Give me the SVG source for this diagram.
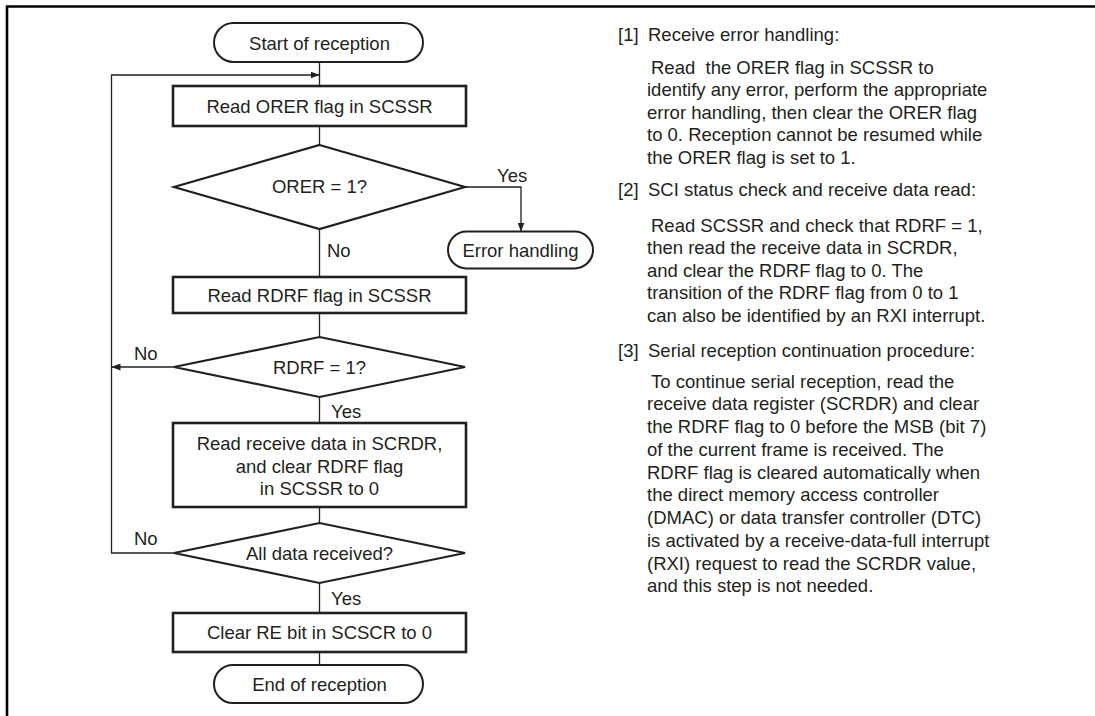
<svg xmlns="http://www.w3.org/2000/svg" width="1095" height="716" viewBox="0 0 1095 716">
<style>
text{font-family:"Liberation Sans",Arial,sans-serif;font-size:18.5px;fill:#231f20}
.c{text-anchor:middle}
.box{fill:#fff;stroke:#231f20;stroke-width:2.6}
.dia{fill:#fff;stroke:#231f20;stroke-width:2.2}
.term{fill:#fff;stroke:#231f20;stroke-width:2}
.ln{fill:none;stroke:#231f20;stroke-width:1.3}
.frame{fill:none;stroke:#000;stroke-width:2.6}
</style>
<defs>
<marker id="ah" markerUnits="userSpaceOnUse" markerWidth="9" markerHeight="7" refX="9" refY="3.5" orient="auto">
<path d="M0,0 L9,3.5 L0,7 z" fill="#231f20"/>
</marker>
</defs>
<rect width="1095" height="716" fill="#fff"/>
<g id="frame">
<path class="frame" d="M7,716 V6.5 H1095"/>
</g>
<g id="connectors">
<path class="ln" d="M319.5,62 V86"/>
<path class="ln" d="M319.5,126 V145"/>
<path class="ln" d="M465,187 H521 V231.5" marker-end="url(#ah)"/>
<path class="ln" d="M319.5,229 V277"/>
<path class="ln" d="M319.5,313 V337"/>
<path class="ln" d="M174,367 H111.5" marker-end="url(#ah)"/>
<path class="ln" d="M319.5,397 V423"/>
<path class="ln" d="M319.5,507 V523"/>
<path class="ln" d="M174,553 H111.5 V75 H319.5" marker-end="url(#ah)"/>
<path class="ln" d="M319.5,583 V613"/>
<path class="ln" d="M319.5,652 V665"/>
<text x="497" y="181.5">Yes</text>
<text x="327" y="256.5">No</text>
<text x="134" y="359.5">No</text>
<text x="331" y="418">Yes</text>
<text x="134" y="544.5">No</text>
<text x="331" y="604.5">Yes</text>
</g>
<g id="start">
<rect class="term" x="214" y="23" width="209" height="39" rx="19.5"/>
<text class="c" x="319.5" y="49.5">Start of reception</text>
</g>
<g id="read-orer">
<rect class="box" x="173" y="86" width="293" height="40"/>
<text class="c" x="319.5" y="112.5">Read ORER flag in SCSSR</text>
</g>
<g id="orer-check">
<polygon class="dia" points="319.5,145 465,187 319.5,229 174,187"/>
<text class="c" x="319.5" y="193">ORER = 1?</text>
</g>
<g id="error-handling">
<rect class="term" x="448" y="231.5" width="145" height="37" rx="18.5"/>
<text class="c" x="520.5" y="256.5">Error handling</text>
</g>
<g id="read-rdrf">
<rect class="box" x="173" y="277" width="293" height="36"/>
<text class="c" x="319.5" y="301.5">Read RDRF flag in SCSSR</text>
</g>
<g id="rdrf-check">
<polygon class="dia" points="319.5,337 465,367 319.5,397 174,367"/>
<text class="c" x="319.5" y="373.5">RDRF = 1?</text>
</g>
<g id="read-data">
<rect class="box" x="173" y="423" width="293" height="84"/>
<text class="c" x="319.5" y="450">Read receive data in SCRDR,</text>
<text class="c" x="319.5" y="472.5">and clear RDRF flag</text>
<text class="c" x="319.5" y="495">in SCSSR to 0</text>
</g>
<g id="all-received">
<polygon class="dia" points="319.5,523 465,553 319.5,583 174,553"/>
<text class="c" x="319.5" y="559.5">All data received?</text>
</g>
<g id="clear-re">
<rect class="box" x="173" y="613" width="293" height="39"/>
<text class="c" x="319.5" y="638.5">Clear RE bit in SCSCR to 0</text>
</g>
<g id="end">
<rect class="term" x="214" y="665" width="209" height="38" rx="19"/>
<text class="c" x="319.5" y="690.5">End of reception</text>
</g>
<g id="notes">
<text x="618" y="41">[1]</text>
<text x="648" y="41">Receive error handling:</text>
<text x="651" y="73.5">Read&#160; the ORER flag in SCSSR to</text>
<text x="647" y="96">identify any error, perform the appropriate</text>
<text x="647" y="118.5">error handling, then clear the ORER flag</text>
<text x="647" y="141">to 0. Reception cannot be resumed while</text>
<text x="647" y="163.5">the ORER flag is set to 1.</text>
<text x="618" y="196">[2]</text>
<text x="648" y="196">SCI status check and receive data read:</text>
<text x="651" y="231.5">Read SCSSR and check that RDRF = 1,</text>
<text x="647" y="254">then read the receive data in SCRDR,</text>
<text x="647" y="276.5">and clear the RDRF flag to 0. The</text>
<text x="647" y="299">transition of the RDRF flag from 0 to 1</text>
<text x="647" y="321.5">can also be identified by an RXI interrupt.</text>
<text x="618" y="357">[3]</text>
<text x="648" y="357">Serial reception continuation procedure:</text>
<text x="651" y="387.5">To continue serial reception, read the</text>
<text x="647" y="410.25">receive data register (SCRDR) and clear</text>
<text x="647" y="433">the RDRF flag to 0 before the MSB (bit 7)</text>
<text x="647" y="455.75">of the current frame is received. The</text>
<text x="647" y="478.5">RDRF flag is cleared automatically when</text>
<text x="647" y="501.25">the direct memory access controller</text>
<text x="647" y="524">(DMAC) or data transfer controller (DTC)</text>
<text x="647" y="546.75">is activated by a receive-data-full interrupt</text>
<text x="647" y="569.5">(RXI) request to read the SCRDR value,</text>
<text x="647" y="592.25">and this step is not needed.</text>
</g>
</svg>
